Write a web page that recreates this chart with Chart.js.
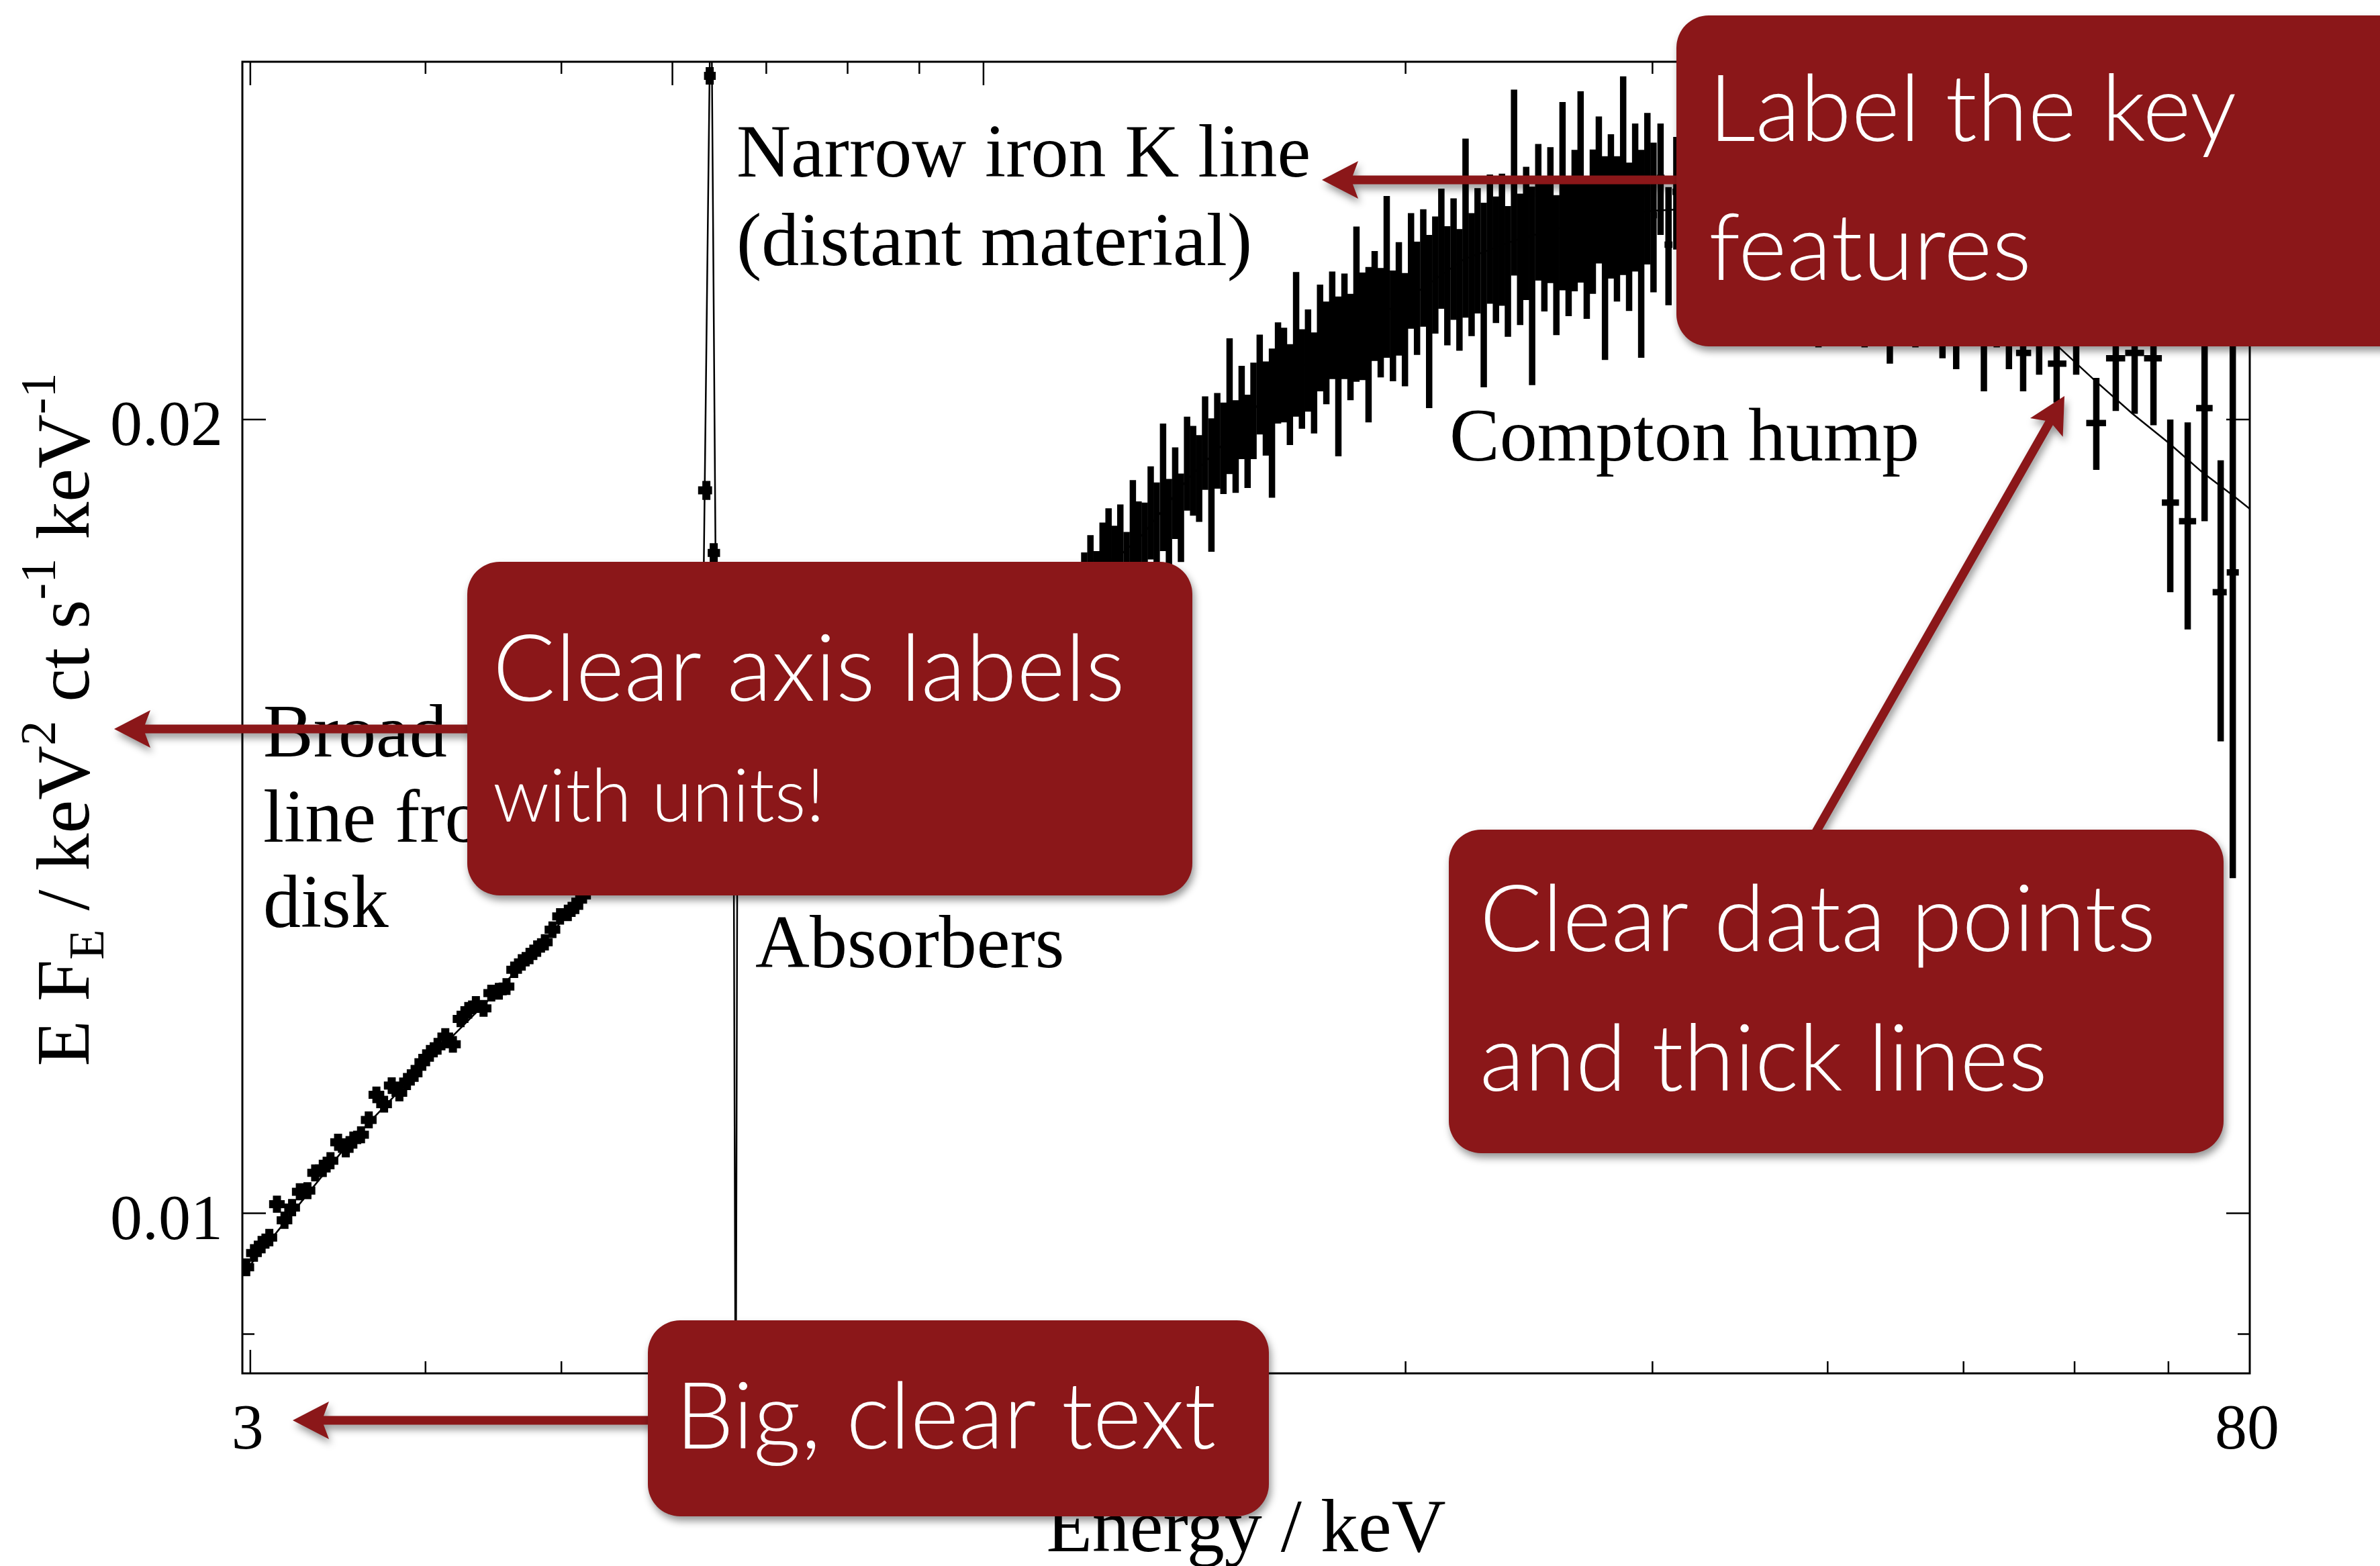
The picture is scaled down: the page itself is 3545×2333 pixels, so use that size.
<!DOCTYPE html>
<html>
<head>
<meta charset="utf-8">
<script src="https://cdn.jsdelivr.net/npm/chart.js@4.4.1/dist/chart.umd.min.js"></script>
<style>
  html, body { margin: 0; padding: 0; background: #ffffff; }
  canvas { display: block; }
</style>
</head>
<body>
<canvas id="spectrum" width="3545" height="2333" style="width:3545px;height:2333px"></canvas>
<script>
// ---------------- Spectrum: binned counts (E F_E) with 1-sigma errors ----------------
const binEnergy = [
  // 3 - 6.3 keV continuum
  2.980, 3.018, 3.056, 3.095, 3.134, 3.173, 3.213, 3.254, 3.295, 3.337,
  3.379, 3.422, 3.465, 3.509, 3.553, 3.598, 3.644, 3.690, 3.737, 3.784,
  3.832, 3.880, 3.929, 3.979, 4.029, 4.080, 4.132, 4.184, 4.237, 4.291,
  4.345, 4.400, 4.456, 4.512, 4.569, 4.627, 4.685, 4.745, 4.805, 4.866,
  4.927, 4.989, 5.053, 5.116, 5.181, 5.247, 5.313, 5.380, 5.448, 5.517,
  5.587, 5.658, 5.729, 5.802, 5.875, 5.949, 6.025, 6.101, 6.178, 6.256,
  // iron K band
  6.344, 6.379, 6.421, 6.470, 6.530, 6.590, 6.650,
  // 6.7 - 11.7 keV
  6.72, 6.86, 7.00, 7.14, 7.28, 7.43, 7.58, 7.73, 7.88, 8.04,
  8.20, 8.37, 8.53, 8.71, 8.88, 9.06, 9.24, 9.42, 9.61, 9.80,
  10.00, 10.20, 10.40, 10.61, 10.82, 11.04, 11.26, 11.49, 11.68,
  // 11.8 - 30 keV
  11.80, 11.92, 12.04, 12.16, 12.28, 12.40, 12.52, 12.65, 12.78, 12.90,
  13.03, 13.16, 13.29, 13.43, 13.56, 13.70, 13.83, 13.97, 14.11, 14.25,
  14.39, 14.54, 14.68, 14.83, 14.98, 15.13, 15.28, 15.43, 15.58, 15.74,
  15.90, 16.06, 16.22, 16.38, 16.54, 16.71, 16.87, 17.04, 17.21, 17.38,
  17.56, 17.73, 17.91, 18.09, 18.27, 18.45, 18.64, 18.82, 19.01, 19.20,
  19.39, 19.59, 19.78, 19.98, 20.18, 20.38, 20.59, 20.79, 21.00, 21.21,
  21.42, 21.64, 21.85, 22.07, 22.29, 22.51, 22.74, 22.97, 23.20, 23.43,
  23.66, 23.90, 24.14, 24.38, 24.62, 24.87, 25.12, 25.37, 25.62, 25.88,
  26.14, 26.40, 26.66, 26.93, 27.20, 27.47, 27.75, 28.02, 28.30, 28.59,
  28.87, 29.16, 29.45, 29.75, 30.05,
  // 30 - 53 keV
  30.4, 30.8, 31.2, 31.6, 32.0, 32.4, 32.9, 33.4, 33.9, 34.4,
  34.9, 35.5, 36.1, 36.7, 37.3, 38.0, 38.7, 39.4, 40.1, 40.9,
  41.7, 42.5, 43.4, 44.3, 45.2, 46.2, 47.2, 48.3, 49.4, 50.5,
  51.7, 52.8,
  // 53 - 80 keV
  53.87, 55.14, 56.61, 58.26, 60.16, 62.18, 64.20, 66.22, 68.30, 70.21,
  72.25, 74.28, 76.27, 77.80
];

const binFlux = [
  0.00954, 0.00966, 0.00973, 0.00979, 0.01008, 0.00994, 0.01005, 0.01019, 0.01020, 0.01036,
  0.01040, 0.01047, 0.01064, 0.01058, 0.01066, 0.01071, 0.01085, 0.01109, 0.01100, 0.01118,
  0.01111, 0.01122, 0.01130, 0.01141, 0.01150, 0.01157, 0.01167, 0.01159, 0.01185, 0.01194,
  0.01200, 0.01196, 0.01212, 0.01214, 0.01219, 0.01237, 0.01245, 0.01252, 0.01260, 0.01267,
  0.01281, 0.01296, 0.01300, 0.01308, 0.01320, 0.01330, 0.01340, 0.01352, 0.01360, 0.01372,
  0.01380, 0.01392, 0.01400, 0.01408, 0.01420, 0.01428, 0.01440, 0.01450, 0.01470, 0.01510,
  0.0188, 0.0270, 0.0178, 0.0149, 0.0146, 0.0147, 0.0140,
  0.01478, 0.01512, 0.01497, 0.01530, 0.01518, 0.01551, 0.01534, 0.01566, 0.01550, 0.01585,
  0.01571, 0.01602, 0.01584, 0.01619, 0.01603, 0.01636, 0.01618, 0.01652, 0.01633, 0.01667,
  0.01648, 0.01680, 0.01661, 0.01697, 0.01680, 0.01715, 0.01698, 0.01712, 0.01718,
  0.01719, 0.01743, 0.01721, 0.01761, 0.01783, 0.01759, 0.01787, 0.01747, 0.01825, 0.01794,
  0.01790, 0.01845, 0.01822, 0.01888, 0.01827, 0.01877, 0.01837, 0.01926, 0.01914, 0.01901,
  0.01961, 0.01892, 0.01965, 0.01952, 0.02027, 0.01955, 0.02014, 0.01964, 0.02017, 0.02064,
  0.02021, 0.01998, 0.02085, 0.02081, 0.02046, 0.02140, 0.02074, 0.02108, 0.02067, 0.02150,
  0.02122, 0.02174, 0.02082, 0.02172, 0.02133, 0.02217, 0.02172, 0.02140, 0.02211, 0.02179,
  0.02271, 0.02173, 0.02225, 0.02166, 0.02280, 0.02226, 0.02286, 0.02185, 0.02272, 0.02325,
  0.02251, 0.02304, 0.02243, 0.02371, 0.02273, 0.02321, 0.02237, 0.02345, 0.02303, 0.02344,
  0.02280, 0.02468, 0.02304, 0.02357, 0.02256, 0.02401, 0.02335, 0.02395, 0.02293, 0.02439,
  0.02331, 0.02384, 0.02459, 0.02329, 0.02382, 0.02449, 0.02312, 0.02414, 0.02367, 0.02484,
  0.02351, 0.02433, 0.02321, 0.02452, 0.02391,
  0.0247, 0.0233, 0.0244, 0.0236, 0.0251, 0.0238, 0.0229, 0.0246, 0.0240, 0.0252,
  0.0235, 0.0243, 0.0237, 0.0249, 0.0231, 0.0244, 0.0239, 0.0228, 0.0246, 0.0236,
  0.0241, 0.0229, 0.0238, 0.0226, 0.0237, 0.0230, 0.0235, 0.0228, 0.0226, 0.0231,
  0.0222, 0.0229,
  0.0224, 0.0212, 0.0219, 0.0210, 0.0219, 0.01994, 0.0211, 0.0212, 0.0211, 0.0186,
  0.0183, 0.0202, 0.0172, 0.0175
];

const binError = [
  0.000040, 0.000040, 0.000040, 0.000040, 0.000040, 0.000040, 0.000040, 0.000040, 0.000040, 0.000040,
  0.000042, 0.000042, 0.000042, 0.000042, 0.000042, 0.000042, 0.000042, 0.000042, 0.000042, 0.000042,
  0.000044, 0.000044, 0.000044, 0.000044, 0.000044, 0.000044, 0.000044, 0.000044, 0.000044, 0.000044,
  0.000046, 0.000046, 0.000046, 0.000046, 0.000046, 0.000046, 0.000046, 0.000046, 0.000046, 0.000046,
  0.000048, 0.000048, 0.000048, 0.000048, 0.000048, 0.000048, 0.000048, 0.000048, 0.000048, 0.000048,
  0.000050, 0.000050, 0.000050, 0.000050, 0.000050, 0.000050, 0.000050, 0.000050, 0.000050, 0.000050,
  0.00009, 0.00011, 0.00009, 0.00020, 0.00020, 0.00020, 0.00020,
  0.00030, 0.00032, 0.00030, 0.00033, 0.00031, 0.00034, 0.00032, 0.00035, 0.00033, 0.00036,
  0.00034, 0.00037, 0.00035, 0.00038, 0.00036, 0.00039, 0.00037, 0.00040, 0.00038, 0.00041,
  0.00039, 0.00041, 0.00040, 0.00042, 0.00040, 0.00042, 0.00041, 0.00042, 0.00040,
  0.00062, 0.00065, 0.00062, 0.00067, 0.00068, 0.00064, 0.00070, 0.00066, 0.00072, 0.00068,
  0.00070, 0.00075, 0.00071, 0.00105, 0.00072, 0.00075, 0.00071, 0.00079, 0.00075, 0.00072,
  0.00080, 0.00110, 0.00082, 0.00078, 0.00120, 0.00079, 0.00082, 0.00080, 0.00085, 0.00090,
  0.00083, 0.00130, 0.00092, 0.00086, 0.00090, 0.00135, 0.00090, 0.00094, 0.00091, 0.00100,
  0.00095, 0.00102, 0.00145, 0.00100, 0.00099, 0.00150, 0.00102, 0.00145, 0.00106, 0.00104,
  0.00160, 0.00105, 0.00110, 0.00107, 0.00115, 0.00110, 0.00117, 0.00165, 0.00116, 0.00122,
  0.00117, 0.00122, 0.00119, 0.00185, 0.00122, 0.00127, 0.00180, 0.00132, 0.00127, 0.00135,
  0.00130, 0.00200, 0.00132, 0.00137, 0.00195, 0.00143, 0.00137, 0.00142, 0.00140, 0.00200,
  0.00142, 0.00147, 0.00205, 0.00145, 0.00150, 0.00157, 0.00205, 0.00152, 0.00150, 0.00215,
  0.00152, 0.00157, 0.00210, 0.00162, 0.00156,
  0.0012, 0.0012, 0.0012, 0.0013, 0.0013, 0.0013, 0.0013, 0.0013, 0.0013, 0.0014,
  0.0014, 0.0014, 0.0014, 0.0014, 0.0014, 0.0015, 0.0015, 0.0015, 0.0015, 0.0015,
  0.0016, 0.0016, 0.0016, 0.0016, 0.0016, 0.0017, 0.0017, 0.0017, 0.0017, 0.0017,
  0.0017, 0.0016,
  0.0015, 0.0007, 0.0011, 0.0007, 0.0011, 0.0008, 0.00095, 0.0011, 0.0012, 0.0014,
  0.00165, 0.0019, 0.0021, 0.0041
];

// ---------------- Best-fitting model curve ----------------
const modelEnergy = [
  2.961, 3.0, 3.5, 4.0, 4.5, 5.0, 5.5, 6.0, 6.2, 6.291,
  6.393, 6.458, 6.55, 6.633, 6.657, 6.677, 6.75, 7.0, 8.0, 9.0,
  10.0, 11.0, 12.0, 13.0, 14.0, 15.0, 16.0, 17.0, 18.0, 20.0,
  22.0, 24.0, 27.0, 30.0, 35.0, 40.0, 45.0, 50.0, 55.0, 58.5,
  62.0, 66.0, 70.0, 74.0, 78.0, 80.0
];
const modelFlux = [
  0.00948, 0.00956, 0.01058, 0.01140, 0.01214, 0.01290, 0.01355, 0.01410, 0.01432, 0.01460,
  0.03010, 0.01460, 0.01470, 0.01470, 0.00804, 0.01480, 0.01490, 0.01510, 0.01570, 0.01620,
  0.01660, 0.01700, 0.01740, 0.01810, 0.01900, 0.01970, 0.02050, 0.02100, 0.02150, 0.02220,
  0.02300, 0.02340, 0.02380, 0.02400, 0.02410, 0.02380, 0.02320, 0.02250, 0.02180, 0.02130,
  0.02070, 0.02010, 0.01960, 0.01910, 0.01870, 0.01850
];

// ---------------- Axes ----------------
const xRange = [2.961, 80];
const yRange = [0.008696, 0.027335];
const xMajorTicks = [3, 6, 10];
const xMinorTicks = [4, 5, 7, 8, 9, 20, 30, 40, 50, 60, 70];
const xLabelValues = [3, 80];
const xLabelTexts = ['3', '80'];
const yMajorTicks = [0.01, 0.02];
const yMinorTicks = [0.009];
const yLabelValues = [0.01, 0.02];
const yLabelTexts = ['0.01', '0.02'];
const xTitle = 'Energy / keV';
const yTitleParts = [
  ['E F', 'n'], ['E', 'sub'], [' / keV', 'n'], ['2', 'sup'],
  [' ct s', 'n'], ['-1', 'sup'], [' keV', 'n'], ['-1', 'sup']
];

// ---------------- Feature labels and tips ----------------
const ironLineLabel = ['Narrow iron K line', '(distant material)'];
const comptonLabel = ['Compton hump'];
const broadLineLabel = ['Broad', 'line from', 'disk'];
const absorberLabel = ['Absorbers'];
const tipKeyFeatures = ['Label the key', 'features'];
const tipAxisLabels = ['Clear axis labels', 'with units!'];
const tipDataPoints = ['Clear data points', 'and thick lines'];
const tipBigText = ['Big, clear text'];

const RED = '#8b1719';
const SERIF = '"Liberation Serif", "Times New Roman", Times, serif';
const SANS = 'Lato, "Open Sans", "Noto Sans", sans-serif';

// Background
const whiteBackground = {
  id: 'whiteBackground',
  beforeDraw(chart) {
    const { ctx, width, height } = chart;
    ctx.save();
    ctx.fillStyle = '#ffffff';
    ctx.fillRect(0, 0, width, height);
    ctx.restore();
  }
};

// Error bars: vertical 1-sigma bar and horizontal bin-width bar for every bin
const errorBars = {
  id: 'errorBars',
  afterDatasetsDraw(chart) {
    const { ctx, chartArea: a, scales: { x, y } } = chart;
    const n = binEnergy.length;
    ctx.save();
    ctx.beginPath();
    ctx.rect(a.left, a.top, a.right - a.left, a.bottom - a.top);
    ctx.clip();
    ctx.strokeStyle = '#000000';
    for (let i = 0; i < n; i++) {
      const e = binEnergy[i], f = binFlux[i], s = binError[i];
      const lo = i > 0 ? Math.sqrt(binEnergy[i - 1] * e) : e * e / Math.sqrt(e * binEnergy[i + 1]);
      const hi = i < n - 1 ? Math.sqrt(e * binEnergy[i + 1]) : e * e / Math.sqrt(binEnergy[i - 1] * e);
      const px = x.getPixelForValue(e);
      const py = y.getPixelForValue(f);
      const soft = e < 6.5;
      ctx.lineWidth = soft ? 12 : 9.5;
      ctx.lineCap = soft ? 'square' : 'butt';
      ctx.beginPath();
      ctx.moveTo(px, y.getPixelForValue(f + s));
      ctx.lineTo(px, y.getPixelForValue(f - s));
      ctx.moveTo(x.getPixelForValue(lo), py);
      ctx.lineTo(x.getPixelForValue(hi), py);
      ctx.stroke();
    }
    ctx.restore();
  }
};

function roundRectPath(ctx, x, y, w, h, r) {
  ctx.beginPath();
  ctx.moveTo(x + r, y);
  ctx.arcTo(x + w, y, x + w, y + h, r);
  ctx.arcTo(x + w, y + h, x, y + h, r);
  ctx.arcTo(x, y + h, x, y, r);
  ctx.arcTo(x, y, x + w, y, r);
  ctx.closePath();
}

function setShadow(ctx) {
  ctx.shadowColor = 'rgba(0,0,0,0.42)';
  ctx.shadowBlur = 12;
  ctx.shadowOffsetX = 3;
  ctx.shadowOffsetY = 7;
}

function drawArrow(ctx, x0, y0, x1, y1) {
  const dx = x1 - x0, dy = y1 - y0, len = Math.hypot(dx, dy);
  const ux = dx / len, uy = dy / len, nx = -uy, ny = ux;
  const shaft = 6.5, headLen = 54, headHalf = 28, notch = 8;
  const bx = x1 - ux * headLen, by = y1 - uy * headLen;
  const jx = bx + ux * notch, jy = by + uy * notch;
  ctx.beginPath();
  ctx.moveTo(x0 + nx * shaft, y0 + ny * shaft);
  ctx.lineTo(jx + nx * shaft, jy + ny * shaft);
  ctx.lineTo(bx + nx * headHalf, by + ny * headHalf);
  ctx.lineTo(x1, y1);
  ctx.lineTo(bx - nx * headHalf, by - ny * headHalf);
  ctx.lineTo(jx - nx * shaft, jy - ny * shaft);
  ctx.lineTo(x0 - nx * shaft, y0 - ny * shaft);
  ctx.closePath();
  ctx.fill();
}

function drawTip(ctx, box, lines, fonts, left, baselines) {
  ctx.save();
  setShadow(ctx);
  ctx.fillStyle = RED;
  roundRectPath(ctx, box[0], box[1], box[2], box[3], 48);
  ctx.fill();
  ctx.restore();
  ctx.save();
  ctx.fillStyle = '#ffffff';
  ctx.textAlign = 'left';
  ctx.textBaseline = 'alphabetic';
  lines.forEach((t, i) => {
    ctx.font = fonts[i];
    ctx.fillText(t, left, baselines[i]);
  });
  ctx.restore();
}

// Frame, ticks, labels and the slide annotations
const frameAndNotes = {
  id: 'frameAndNotes',
  afterDraw(chart) {
    const { ctx, chartArea: a, scales: { x, y } } = chart;
    ctx.save();

    // plot frame
    ctx.strokeStyle = '#000000';
    ctx.lineWidth = 3;
    ctx.strokeRect(a.left, a.top, a.right - a.left, a.bottom - a.top);

    // inward ticks on all four sides
    ctx.lineWidth = 2.5;
    ctx.beginPath();
    const xTick = (v, len) => {
      const px = x.getPixelForValue(v);
      ctx.moveTo(px, a.bottom); ctx.lineTo(px, a.bottom - len);
      ctx.moveTo(px, a.top); ctx.lineTo(px, a.top + len);
    };
    const yTick = (v, len) => {
      const py = y.getPixelForValue(v);
      ctx.moveTo(a.left, py); ctx.lineTo(a.left + len, py);
      ctx.moveTo(a.right, py); ctx.lineTo(a.right - len, py);
    };
    xMajorTicks.forEach(v => xTick(v, 35));
    xMinorTicks.forEach(v => xTick(v, 18));
    yMajorTicks.forEach(v => yTick(v, 35));
    yMinorTicks.forEach(v => yTick(v, 18));
    ctx.stroke();

    // tick labels
    ctx.fillStyle = '#000000';
    ctx.font = '96px ' + SERIF;
    ctx.textBaseline = 'alphabetic';
    ctx.textAlign = 'right';
    yLabelValues.forEach((v, i) => ctx.fillText(yLabelTexts[i], a.left - 29, y.getPixelForValue(v) + 38));
    ctx.textAlign = 'center';
    xLabelValues.forEach((v, i) => ctx.fillText(xLabelTexts[i], x.getPixelForValue(v) - 4, a.bottom + 112));

    // axis titles
    ctx.font = '112px ' + SERIF;
    ctx.textAlign = 'center';
    ctx.fillText(xTitle, (a.left + a.right) / 2, a.bottom + 265);

    ctx.save();
    ctx.translate(132, (a.top + a.bottom) / 2 + 3);
    ctx.rotate(-Math.PI / 2);
    ctx.textAlign = 'left';
    const partFont = k => (k === 'n' ? '112px ' : '74px ') + SERIF;
    let total = 0;
    yTitleParts.forEach(([t, k]) => { ctx.font = partFont(k); total += ctx.measureText(t).width; });
    let cx = -total / 2;
    yTitleParts.forEach(([t, k]) => {
      ctx.font = partFont(k);
      const dy = k === 'sub' ? 22 : (k === 'sup' ? -50 : 0);
      ctx.fillText(t, cx, dy);
      cx += ctx.measureText(t).width;
    });
    ctx.restore();

    // feature labels
    ctx.font = '112px ' + SERIF;
    ctx.textAlign = 'left';
    ironLineLabel.forEach((t, i) => ctx.fillText(t, 1097, 263 + i * 132));
    comptonLabel.forEach((t, i) => ctx.fillText(t, 2159, 686 + i * 127));
    broadLineLabel.forEach((t, i) => ctx.fillText(t, 392, 1127 + i * 127));
    absorberLabel.forEach((t, i) => ctx.fillText(t, 1125, 1441 + i * 127));

    // arrows
    ctx.save();
    setShadow(ctx);
    ctx.fillStyle = RED;
    drawArrow(ctx, 2530, 268, 1969, 268);
    drawArrow(ctx, 730, 1086, 170, 1086);
    drawArrow(ctx, 1000, 2116, 436, 2116);
    drawArrow(ctx, 2692, 1262, 3075, 590);
    ctx.restore();

    // tips
    const big = '300 138px ' + SANS;
    drawTip(ctx, [2497, 23, 1150, 493], tipKeyFeatures, [big, big], 2545, [210, 417]);
    drawTip(ctx, [696, 837, 1080, 497], tipAxisLabels, [big, '300 110px ' + SANS], 734, [1044, 1224]);
    drawTip(ctx, [2158, 1236, 1154, 482], tipDataPoints, [big, big], 2204, [1417, 1625]);
    drawTip(ctx, [965, 1967, 925, 292], tipBigText, [big], 1006, [2158]);

    ctx.restore();
  }
};

const modelPoints = modelEnergy.map((e, i) => ({ x: e, y: modelFlux[i] }));
const binPoints = binEnergy.map((e, i) => ({ x: e, y: binFlux[i] }));

const chart = new Chart(document.getElementById('spectrum'), {
  type: 'scatter',
  data: {
    datasets: [
      {
        type: 'line',
        label: 'Model',
        data: modelPoints,
        borderColor: '#000000',
        borderWidth: 2.5,
        pointRadius: 0,
        fill: false,
        tension: 0,
        order: 2
      },
      {
        type: 'scatter',
        label: 'Data',
        data: binPoints,
        pointRadius: 0,
        pointHoverRadius: 0,
        showLine: false,
        order: 1
      }
    ]
  },
  options: {
    responsive: false,
    animation: false,
    devicePixelRatio: 1,
    events: [],
    layout: { padding: { left: 361, right: 194, top: 92, bottom: 287 } },
    plugins: { legend: { display: false }, tooltip: { enabled: false } },
    scales: {
      x: { type: 'logarithmic', min: xRange[0], max: xRange[1], display: false },
      y: { type: 'logarithmic', min: yRange[0], max: yRange[1], display: false }
    }
  },
  plugins: [whiteBackground, errorBars, frameAndNotes]
});

Promise.all([
  document.fonts.load('300 138px Lato'),
  document.fonts.load('112px "Liberation Serif"')
]).then(() => chart.update('none')).catch(() => {});
</script>
</body>
</html>
